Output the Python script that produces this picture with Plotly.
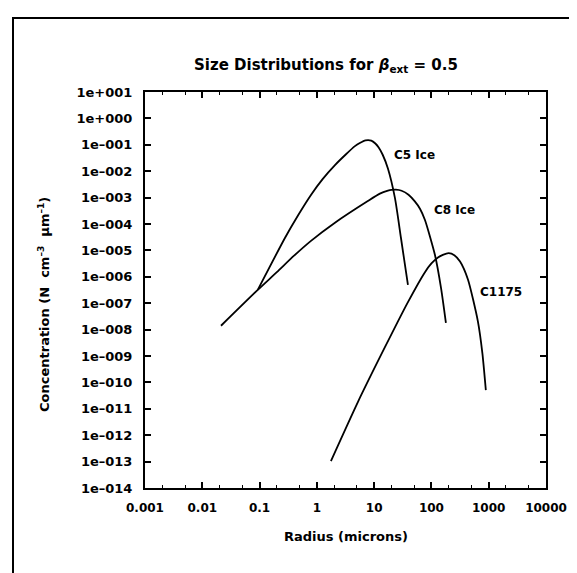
import plotly.graph_objects as go

# Radius (microns) and concentration values
c5_radius = [0.093, 0.277, 0.468, 0.789, 1.26, 2.07, 3.16, 4.62, 5.62, 7.08, 8.91, 10.5, 12.0, 14.1, 17.4, 23.1, 29.4, 38.9]
c5_conc = [3.2e-7, 2.95e-5, 2.1e-4, 1.26e-3, 5.0e-3, 1.7e-2, 4.2e-2, 8.9e-2, 0.117, 0.148, 0.145, 0.112, 7.9e-2, 4.2e-2, 1.26e-2, 9.5e-4, 2.95e-5, 4.9e-7]

c8_radius = [0.0212, 0.093, 0.2, 0.4, 0.79, 2.07, 7.76, 12.6, 17.4, 20.0, 24.0, 30.2, 39.8, 51.3, 63.1, 77.1, 115.0, 147.0, 179.0]
c8_conc = [1.4e-8, 3.2e-7, 1.5e-6, 6.3e-6, 2.3e-5, 1.12e-4, 7.4e-4, 1.41e-3, 1.82e-3, 1.95e-3, 2.0e-3, 1.82e-3, 1.29e-3, 7.2e-4, 3.8e-4, 1.41e-4, 6.8e-6, 3.8e-7, 1.8e-8]

c1175_radius = [1.76, 5.2, 15.5, 38.9, 77.1, 100.0, 130.0, 158.0, 200.0, 251.0, 316.0, 434.0, 646.0, 776.0, 891.0]
c1175_conc = [1.05e-13, 1.8e-11, 2.2e-9, 1.1e-7, 1.5e-6, 3.2e-6, 5.4e-6, 6.8e-6, 7.9e-6, 6.6e-6, 3.8e-6, 7.9e-7, 2.1e-8, 1.26e-9, 5.1e-11]

y_tick_vals = [10.0 ** e for e in range(1, -15, -1)]
y_tick_text = ["1e+001", "1e+000"] + ["1e\u2013%03d" % e for e in range(1, 15)]
x_tick_vals = [0.001, 0.01, 0.1, 1, 10, 100, 1000, 10000]
x_tick_text = ["0.001", "0.01", "0.1", "1", "10", "100", "1000", "10000"]

FONT = "DejaVu Sans"
W, H = 577, 573
L, R, T, B = 137, 538, 84, 480

fig = go.Figure()
for xs, ys in [(c5_radius, c5_conc), (c8_radius, c8_conc), (c1175_radius, c1175_conc)]:
    fig.add_trace(go.Scatter(x=xs, y=ys, mode="lines",
                             line=dict(color="black", width=1.8, shape="spline", smoothing=0.6),
                             showlegend=False, hoverinfo="skip"))

def px2paper(px, py):
    return (px - L) / (R - L), (B - py) / (B - T)

labels = [("C5 Ice", 384, 147), ("C8 Ice", 424, 202), ("C1175", 470, 284)]
anns = []
for txt, px, py in labels:
    xp, yp = px2paper(px, py)
    anns.append(dict(text="<b>%s</b>" % txt, x=xp, y=yp, xref="paper", yref="paper",
                     xanchor="left", yanchor="middle", showarrow=False,
                     font=dict(family=FONT, size=12, color="black")))

xp, yp = px2paper(318, 58)
anns.append(dict(text="<b>Size Distributions for <i>\u03b2</i><sub>ext</sub> = 0.5</b>",
                 x=xp, y=yp, xref="paper", yref="paper", xanchor="center", yanchor="middle",
                 showarrow=False, font=dict(family=FONT, size=15, color="black")))
xp, yp = px2paper(338, 528)
anns.append(dict(text="<b>Radius (microns)</b>", x=xp, y=yp, xref="paper", yref="paper",
                 xanchor="center", yanchor="middle", showarrow=False,
                 font=dict(family=FONT, size=13, color="black")))
xp, yp = px2paper(36, 296)
anns.append(dict(text="<b>Concentration (N  cm<sup>\u20133</sup>  \u03bcm<sup>\u20131</sup>)</b>",
                 x=xp, y=yp, xref="paper", yref="paper", xanchor="center", yanchor="middle",
                 textangle=-90, showarrow=False,
                 font=dict(family=FONT, size=13, color="black")))

x0, y0 = px2paper(5, 10)
x1, y1 = px2paper(572, 600)
shapes = [dict(type="rect", xref="paper", yref="paper", x0=x0, y0=y1, x1=x1, y1=y0,
               line=dict(color="black", width=2))]

fig.update_layout(
    width=W, height=H,
    margin=dict(l=L, r=W - R, t=T, b=H - B),
    paper_bgcolor="white", plot_bgcolor="white",
    font=dict(family=FONT, color="black"),
    annotations=anns, shapes=shapes,
    xaxis=dict(type="log", range=[-3, 4], tickvals=x_tick_vals,
               ticktext=["<b>%s</b>" % t for t in x_tick_text],
               ticks="inside", ticklen=6, tickwidth=1.5, tickcolor="black",
               minor=dict(ticks="inside", ticklen=3, tickwidth=1, tickcolor="black"),
               showline=True, linecolor="black", linewidth=2, mirror="ticks",
               showgrid=False, zeroline=False, ticklabelstandoff=8,
               tickfont=dict(family=FONT, size=12, color="black")),
    yaxis=dict(type="log", range=[-14, 1], tickvals=y_tick_vals,
               ticktext=["<b>%s</b>" % t for t in y_tick_text],
               ticks="inside", ticklen=6, tickwidth=1.5, tickcolor="black",
               showline=True, linecolor="black", linewidth=2, mirror="ticks",
               showgrid=False, zeroline=False, ticklabelstandoff=8,
               tickfont=dict(family=FONT, size=13, color="black")),
)

fig.write_html("out.html")
